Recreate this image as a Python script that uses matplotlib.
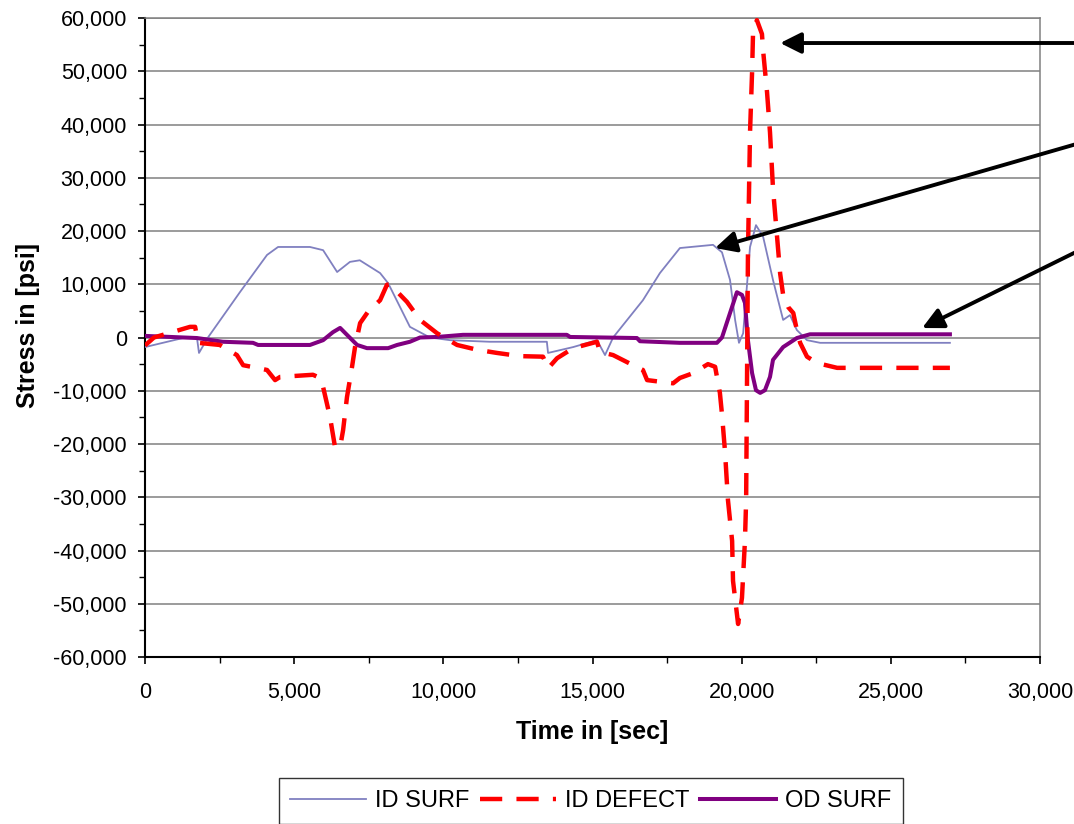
import matplotlib
matplotlib.use("Agg")
import matplotlib.pyplot as plt
from matplotlib.ticker import MultipleLocator, FuncFormatter

# ---- data ----
t_surf = [0, 1270, 1740, 1810, 2110, 3180, 4090, 4460, 5530, 5970, 6440, 6870, 7200,
          7880, 8150, 8880, 9550, 10220, 11560, 13470, 13510, 14350, 15150, 15420,
          15690, 16690, 17260, 17930, 19040, 19340, 19610, 19780, 19910, 20050, 20280,
          20480, 20720, 21050, 21390, 21620, 21850, 22190, 22630, 26980]
s_surf = [-1800, -100, 0, -2900, 0, 8500, 15500, 17000, 17000, 16400, 12300, 14200, 14500,
          12100, 10200, 2000, 0, -500, -800, -800, -2900, -1800, -500, -3300,
          0, 7000, 12100, 16800, 17400, 16000, 10800, 3300, -1000, 800, 17000,
          21100, 18900, 10800, 3300, 4200, 1400, -500, -1000, -1000]

t_def = [0, 300, 1510, 1680, 1780, 2510, 3080, 3290, 3750, 4090, 4360, 4530, 5630, 5870,
         5970, 6200, 6370, 6540, 6640, 6770, 6940, 7040, 7210, 7470, 7880, 8110, 8210,
         8780, 9220, 9790, 10460, 11130, 11800, 12570, 13340, 13510, 13810, 14350,
         15150, 15250, 15690, 16360, 16690, 16830, 17260, 17700, 17930, 18370, 18870,
         19110, 19270, 19340, 19440, 19540, 19680, 19710, 19840, 19880, 20010, 20110,
         20150, 20170, 20190, 20210, 20280, 20350, 20380, 20510, 20680, 20720, 20850,
         20950, 21050, 21290, 21390, 21560, 21730, 21850, 21960, 22190, 22530, 23200,
         26980]
s_def = [-1500, 0, 2000, 2000, -1000, -1400, -3300, -5200, -5700, -6100, -8000, -7400, -7000, -7600,
         -9300, -14900, -20600, -20600, -17400, -11200, -5500, -1800, 2700, 4800, 7000, 9900, 10000,
         6700, 3300, 800, -1400, -2300, -2900, -3500, -3600, -5800, -3900, -2000,
         -800, -2700, -3300, -5200, -6100, -8000, -8300, -8600, -7600, -6700, -5000,
         -5500, -10400, -14400, -21300, -30500, -38200, -45700, -51900, -53800, -48900, -38200,
         -30500, -15000, 0, 15400, 38500, 50000, 57000, 59600, 57000, 53800, 46100,
         38500, 28000, 12000, 8000, 5700, 4600, 1400, -1000, -3600, -4800, -5700,
         -5700]

t_od = [0, 1740, 2610, 3620, 3790, 5530, 5970, 6300, 6540, 6770, 7110, 7440, 8150, 8450,
        8880, 9220, 9790, 10660, 14140, 14250, 16490, 16590, 17930, 19170, 19340, 19610,
        19840, 20010, 20110, 20210, 20350, 20480, 20620, 20780, 20950, 21050, 21390,
        21850, 22290, 26980]
s_od = [300, -100, -800, -1000, -1400, -1400, -500, 1000, 1800, 500, -1400, -2000, -2000, -1400,
        -800, 0, 100, 500, 500, 100, -100, -700, -1000, -1000, 0, 4600,
        8500, 8000, 6500, -500, -6700, -9900, -10400, -9900, -7400, -4200, -1800,
        -100, 600, 600]

series_labels = ["ID SURF", "ID DEFECT", "OD SURF"]

# arrow targets (data) and tails (figure pixels from lower-left)
arrow_targets = [(21290, 55300), (19110, 16800), (26050, 1780)]
arrow_tails = [(1080, 781), (1080, 681), (1080, 574)]

plt.rcParams['font.family'] = ['Liberation Sans', 'DejaVu Sans']

fig = plt.figure(figsize=(10.74, 8.24), dpi=100)
ax = fig.add_axes([145/1074, 1-657/824, (1040-145)/1074, (657-18)/824])

ax.plot(t_surf, s_surf, color='#8080C0', lw=1.3, label=series_labels[0], zorder=3)
ax.plot(t_def, s_def, color='#FF0000', lw=3.2, dashes=(5, 3.2), label=series_labels[1], zorder=4)
ax.plot(t_od, s_od, color='#800080', lw=2.9, label=series_labels[2], zorder=3)

ax.set_xlim(0, 30000)
ax.set_ylim(-60000, 60000)
ax.xaxis.set_major_locator(MultipleLocator(5000))
ax.xaxis.set_minor_locator(MultipleLocator(2500))
ax.yaxis.set_major_locator(MultipleLocator(10000))
ax.yaxis.set_minor_locator(MultipleLocator(5000))
fmt = FuncFormatter(lambda v, p: f"{int(round(v)):,}")
ax.xaxis.set_major_formatter(fmt)
ax.yaxis.set_major_formatter(fmt)

ax.grid(axis='y', which='major', color='#808080', lw=1.1, zorder=1)
ax.set_axisbelow(True)
for side in ['top', 'right']:
    ax.spines[side].set_color('#808080')
    ax.spines[side].set_linewidth(1.1)
for side in ['left', 'bottom']:
    ax.spines[side].set_color('black')
    ax.spines[side].set_linewidth(1.5)

ax.tick_params(axis='both', which='major', direction='out', length=5, width=1.2,
               labelsize=15.5, colors='black')
ax.tick_params(axis='y', which='major', pad=8)
ax.tick_params(axis='x', which='major', pad=13)
ax.tick_params(axis='both', which='minor', direction='out', length=4, width=1.0)

ax.set_xlabel("Time in [sec]", fontsize=18, fontweight='bold')
ax.set_ylabel("Stress in [psi]", fontsize=18, fontweight='bold')
ax.xaxis.set_label_coords(0.5, -(720-657)/639)
ax.yaxis.set_label_coords(-(145-40)/895, (657-325)/639)

for (tx, ty), (fx, fy) in zip(arrow_targets, arrow_tails):
    ax.annotate("", xy=(tx, ty), xycoords='data', xytext=(fx, fy), textcoords='figure pixels',
                arrowprops=dict(arrowstyle='-|>,head_length=0.9,head_width=0.45', color='black',
                                lw=2.8, mutation_scale=14, shrinkA=0, shrinkB=0),
                annotation_clip=False, zorder=6)

leg = fig.legend(loc='center', bbox_to_anchor=(591/1074, 1-801/824), ncol=3, fontsize=17,
                 frameon=True, fancybox=False, edgecolor='black', handlelength=3.2,
                 handletextpad=0.4, columnspacing=0.45, borderpad=0.5)
leg.get_frame().set_linewidth(1.0)

fig.savefig("out.png", dpi=100)
